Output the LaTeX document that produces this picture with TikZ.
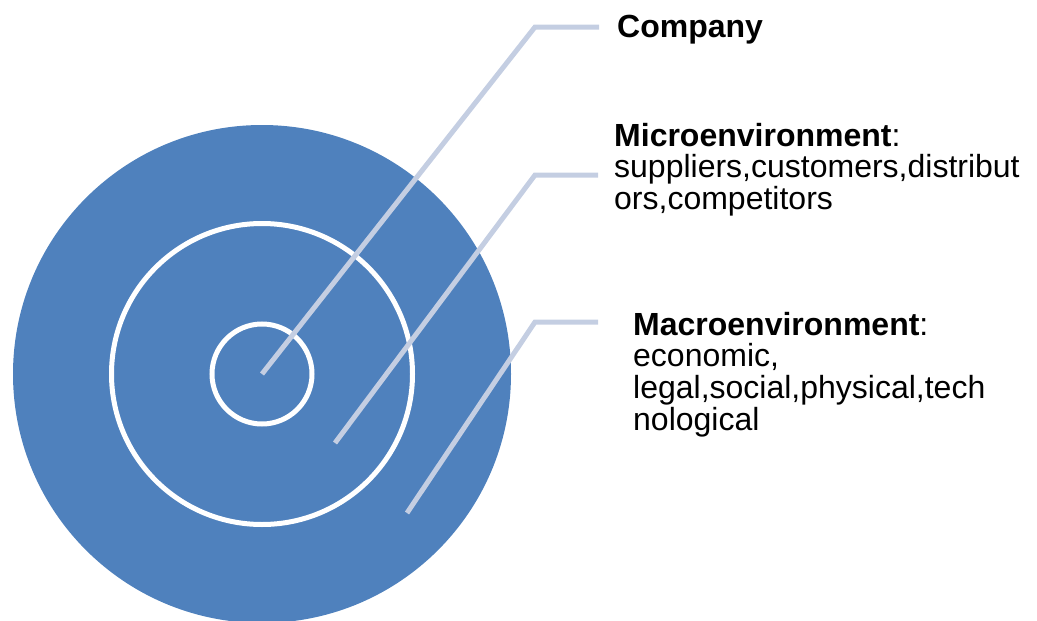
\documentclass[tikz,border=0pt]{standalone}
\usepackage{fontspec}
\setmainfont{Liberation Sans}
\definecolor{ringblue}{HTML}{4F81BD}
\definecolor{leadergray}{HTML}{C4CEE2}
\tikzstyle{ring}=[draw=white, line width=5pt]
\tikzstyle{leader}=[draw=leadergray, line width=5pt]
\tikzstyle{caption}=[anchor=base west, inner sep=0pt, align=left, text width=430pt, font=\fontsize{32}{31.8}\selectfont]

\begin{document}
\begin{tikzpicture}[x=1pt, y=-1pt]
	\useasboundingbox (0,0) rectangle (1037,621);
	% rings
	\coordinate (core) at (262,374);
	\fill[ringblue] (core) circle[radius=249pt];
	\path[ring] (core) circle[radius=150.5pt];
	\path[ring] (core) circle[radius=50pt];
	% captions
	\node[caption] (company) at (617,37.5) {\textbf{Company}};
	\node[caption] (micro) at (614,146) {\textbf{Microenvironment}:\\suppliers,customers,distribut\\ors,competitors};
	\node[caption] (macro) at (633,335) {\textbf{Macroenvironment}:\\economic,\\legal,social,physical,tech\\nological};
	% leader lines
	\coordinate (c1) at (535,27);  \coordinate (e1) at (599,27);
	\coordinate (s2) at (335,443); \coordinate (c2) at (535,175); \coordinate (e2) at (598,175);
	\coordinate (s3) at (407,513); \coordinate (c3) at (535,322); \coordinate (e3) at (598,322);
	\path[leader] (core) -- (c1) -- (e1);
	\path[leader] (s2) -- (c2) -- (e2);
	\path[leader] (s3) -- (c3) -- (e3);
\end{tikzpicture}
\end{document}
